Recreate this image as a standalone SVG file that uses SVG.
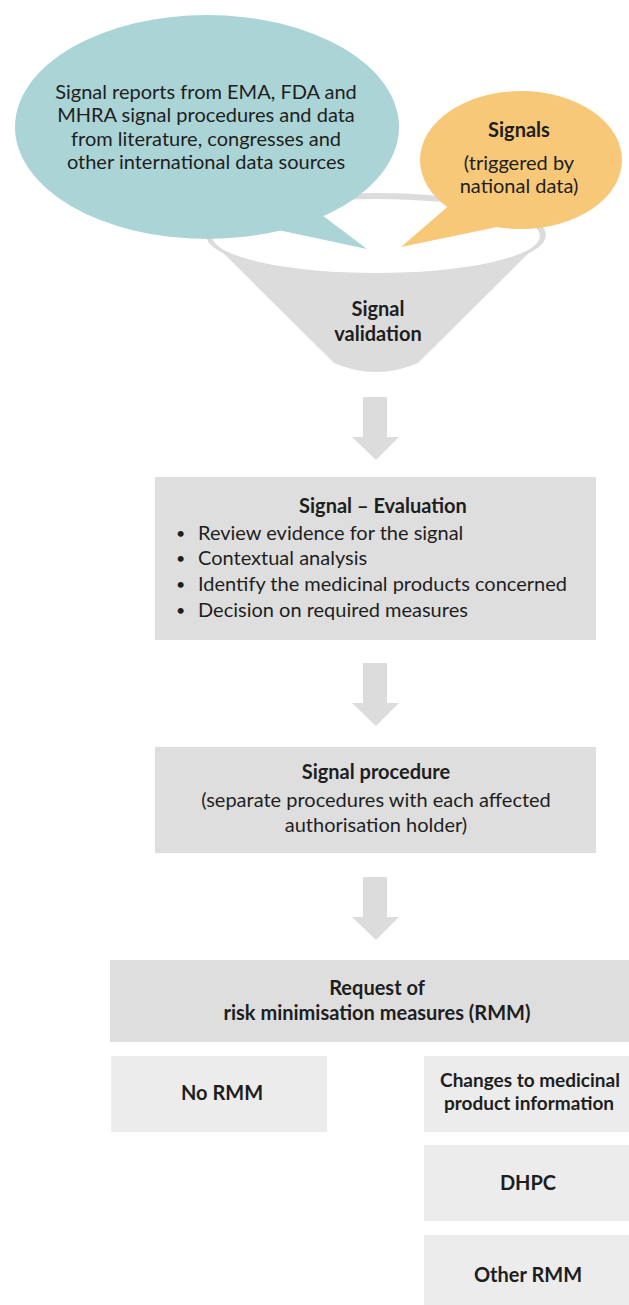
<svg xmlns="http://www.w3.org/2000/svg" xmlns:xlink="http://www.w3.org/1999/xlink" width="629" height="1305" viewBox="0 0 629 1305">
<style>
text{font-family:Lato,"Liberation Sans",sans-serif;fill:#1e1e1e;font-size:20px}
.c{text-anchor:middle}
.b{font-weight:bold}
.box{fill:#dedede}
.lbox{fill:#ececec}
.arr{fill:#dcdcdc}
.bul{font-size:16px}
.sm{font-size:19px}
</style>
<defs>
<polygon id="arrow" points="363,0 387,0 387,40 399,40 376,63 352,40 363,40"/>
</defs>
<rect width="629" height="1305" fill="#ffffff"/>
<g id="funnel">
<ellipse cx="376" cy="235" rx="170" ry="42" fill="#dcdcdc"/>
<path d="M206,236 L334,363 Q376,381 418,363 L546,236 Z" fill="#dcdcdc"/>
<ellipse cx="376" cy="236" rx="164" ry="37" fill="#ffffff"/>
<text class="c b" x="378" y="316">Signal</text>
<text class="c b" x="378" y="341">validation</text>
</g>
<g id="teal-bubble">
<ellipse cx="207" cy="127" rx="192" ry="112" fill="#abd4d6"/>
<polygon points="318,212 367,249 278,230" fill="#abd4d6"/>
<text class="c" x="206" y="99">Signal reports from EMA, FDA and</text>
<text class="c" x="206" y="122">MHRA signal procedures and data</text>
<text class="c" x="206" y="146">from literature, congresses and</text>
<text class="c" x="206" y="169">other international data sources</text>
</g>
<g id="orange-bubble">
<ellipse cx="521" cy="160" rx="101" ry="69" fill="#f6c878"/>
<polygon points="452,203 401,247 502,226" fill="#f6c878"/>
<text class="c b" x="519" y="137">Signals</text>
<text class="c" x="519" y="170">(triggered by</text>
<text class="c" x="519" y="193">national data)</text>
</g>
<g id="connectors">
<use xlink:href="#arrow" href="#arrow" class="arr" transform="translate(0,397)"/>
<use xlink:href="#arrow" href="#arrow" class="arr" transform="translate(0,663)"/>
<use xlink:href="#arrow" href="#arrow" class="arr" transform="translate(0,877)"/>
</g>
<g id="evaluation">
<rect class="box" x="155" y="477" width="441" height="163"/>
<text class="c b" x="383" y="513">Signal – Evaluation</text>
<text class="bul" x="176" y="539">•</text><text x="198" y="540">Review evidence for the signal</text>
<text class="bul" x="176" y="564">•</text><text x="198" y="565">Contextual analysis</text>
<text class="bul" x="176" y="590">•</text><text x="198" y="591">Identify the medicinal products concerned</text>
<text class="bul" x="176" y="616">•</text><text x="198" y="617">Decision on required measures</text>
</g>
<g id="procedure">
<rect class="box" x="155" y="747" width="441" height="106"/>
<text class="c b" x="376" y="779">Signal procedure</text>
<text class="c" x="376" y="807">(separate procedures with each affected</text>
<text class="c" x="376" y="832">authorisation holder)</text>
</g>
<g id="request">
<rect class="box" x="110" y="960" width="519" height="82"/>
<text class="c b" x="377" y="995">Request of</text>
<text class="c b" x="377" y="1020">risk minimisation measures (RMM)</text>
</g>
<g id="no-rmm">
<rect class="lbox" x="111" y="1056" width="216" height="76"/>
<text class="c b" x="222" y="1100">No RMM</text>
</g>
<g id="changes">
<rect class="lbox" x="424" y="1056" width="205" height="76"/>
<text class="c b sm" x="530" y="1087">Changes to medicinal</text>
<text class="c b sm" x="529" y="1110">product information</text>
</g>
<g id="dhpc">
<rect class="lbox" x="424" y="1145" width="205" height="76"/>
<text class="c b" x="528" y="1190">DHPC</text>
</g>
<g id="other-rmm">
<rect class="lbox" x="424" y="1235" width="205" height="70"/>
<text class="c b" x="528" y="1282">Other RMM</text>
</g>
</svg>
